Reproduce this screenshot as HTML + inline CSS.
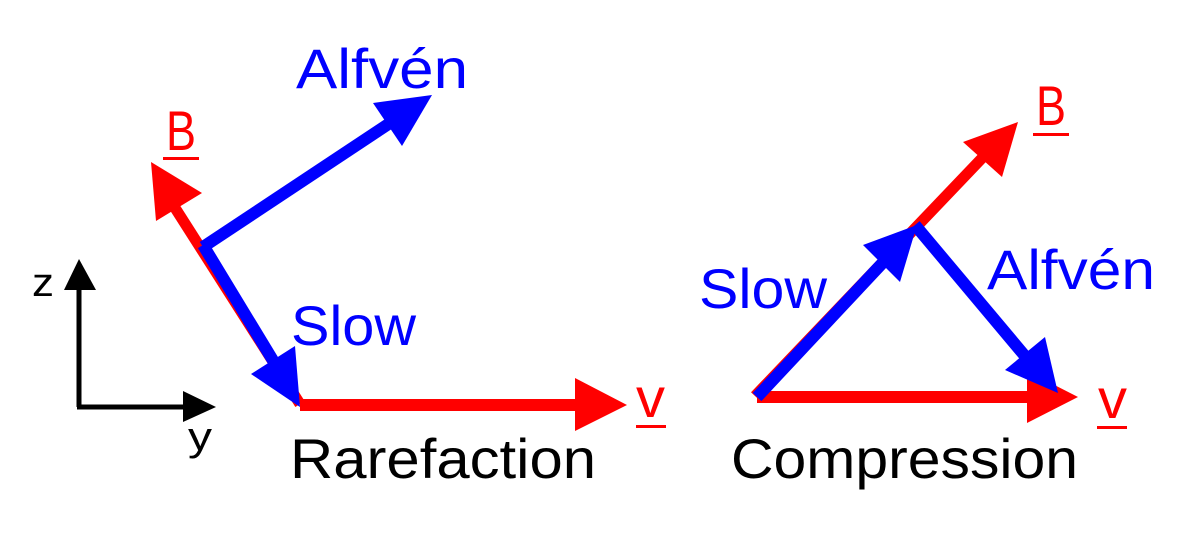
<!DOCTYPE html>
<html><head><meta charset="utf-8"><style>
html,body{margin:0;padding:0;background:#fff;}
svg{display:block;font-family:"Liberation Sans",sans-serif;}
</style></head><body>
<svg width="1200" height="536" viewBox="0 0 1200 536">
<!-- axes -->
<line x1="79" y1="407" x2="79" y2="285" stroke="#000" stroke-width="5"/>
<polygon points="79,259 64,290 96,290" fill="#000"/>
<line x1="77" y1="407" x2="188" y2="407" stroke="#000" stroke-width="5"/>
<polygon points="216,407 183,391 183,422" fill="#000"/>
<text x="32" y="296" font-size="40" textLength="22" lengthAdjust="spacingAndGlyphs">z</text>
<text x="188" y="450" font-size="40" textLength="24" lengthAdjust="spacingAndGlyphs">y</text>

<!-- Left: rarefaction -->
<line x1="300" y1="404" x2="170" y2="200" stroke="#f00" stroke-width="11"/>
<polygon points="151,162 156,221 202,193" fill="#f00"/>
<line x1="300" y1="405" x2="580" y2="405" stroke="#f00" stroke-width="12"/>
<polygon points="627,405 575,378 575,431" fill="#f00"/>
<line x1="203" y1="247" x2="390" y2="123" stroke="#00f" stroke-width="12"/>
<polygon points="432,95 373,103 402,146" fill="#00f"/>
<line x1="203" y1="245" x2="280" y2="372" stroke="#00f" stroke-width="12"/>
<polygon points="300,407 251,374 295,346" fill="#00f"/>
<text x="166" y="150" font-size="56" fill="#f00" textLength="30" lengthAdjust="spacingAndGlyphs">B</text>
<rect x="163" y="157" width="36" height="3" fill="#f00"/>
<text x="296" y="88" font-size="56" fill="#00f" textLength="172" lengthAdjust="spacingAndGlyphs">Alfvén</text>
<text x="291" y="345" font-size="56" fill="#00f" textLength="125" lengthAdjust="spacingAndGlyphs">Slow</text>
<text x="636" y="417" font-size="56" fill="#f00" textLength="29" lengthAdjust="spacingAndGlyphs">v</text>
<rect x="636" y="425" width="30" height="3" fill="#f00"/>
<text x="290" y="478" font-size="56" fill="#000" textLength="306" lengthAdjust="spacingAndGlyphs">Rarefaction</text>

<!-- Right: compression -->
<line x1="755" y1="396" x2="985" y2="155" stroke="#f00" stroke-width="11"/>
<polygon points="1018,122 963,142 1002,177" fill="#f00"/>
<line x1="757" y1="397" x2="1035" y2="397" stroke="#f00" stroke-width="12"/>
<polygon points="1078,397 1027,371 1027,423" fill="#f00"/>
<line x1="757" y1="397" x2="890" y2="255" stroke="#00f" stroke-width="12"/>
<polygon points="917,225 863,245 900,282" fill="#00f"/>
<line x1="915" y1="225" x2="1030" y2="362" stroke="#00f" stroke-width="12"/>
<polygon points="1058,393 1005,370 1045,337" fill="#00f"/>
<text x="1036" y="125" font-size="56" fill="#f00" textLength="30" lengthAdjust="spacingAndGlyphs">B</text>
<rect x="1033" y="133" width="36" height="3" fill="#f00"/>
<text x="1098" y="418" font-size="56" fill="#f00" textLength="29" lengthAdjust="spacingAndGlyphs">v</text>
<rect x="1097" y="426" width="30" height="3" fill="#f00"/>
<text x="699" y="308" font-size="56" fill="#00f" textLength="128" lengthAdjust="spacingAndGlyphs">Slow</text>
<text x="987" y="289" font-size="56" fill="#00f" textLength="168" lengthAdjust="spacingAndGlyphs">Alfvén</text>
<text x="731" y="478" font-size="56" fill="#000" textLength="347" lengthAdjust="spacingAndGlyphs">Compression</text>
</svg>
</body></html>
